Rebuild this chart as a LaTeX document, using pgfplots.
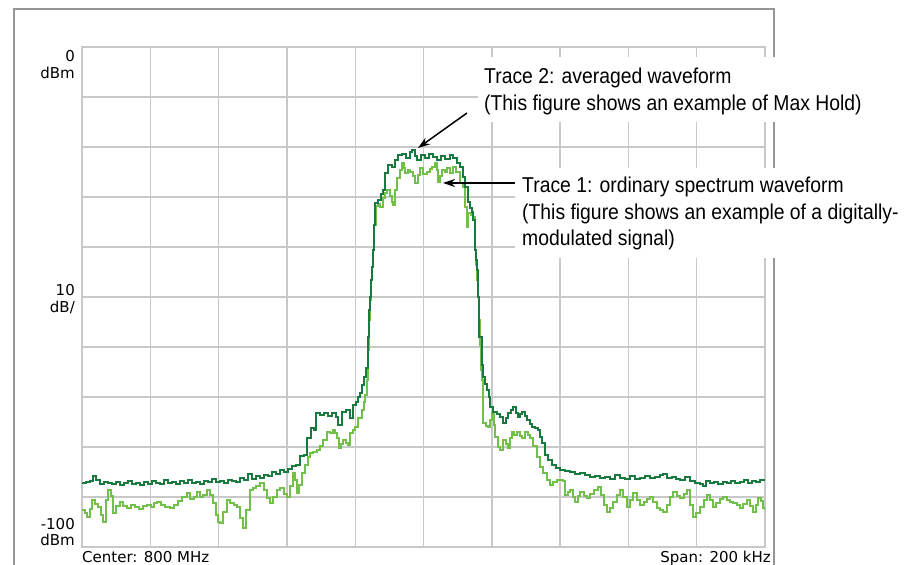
\documentclass[border=0pt]{standalone}
\usepackage{pgfplots}
\pgfplotsset{compat=1.18}
\usetikzlibrary{arrows.meta}
\usepackage{fontspec}
\setmainfont{DejaVu Sans}
\newfontfamily\annfont[FakeStretch=0.9]{Liberation Sans}
\definecolor{darktrace}{RGB}{24,122,62}
\definecolor{lighttrace}{RGB}{112,192,74}
\definecolor{gridgray}{RGB}{200,200,200}
\definecolor{framegray}{RGB}{150,150,150}
\begin{document}
\begin{tikzpicture}[x=1bp,y=1bp]
\useasboundingbox (0,0) rectangle (907,565);
\draw[framegray, line width=1.2bp] (14,0) -- (14,556) -- (774,556) -- (774,0);
\begin{axis}[
  at={(82bp,18bp)}, anchor=south west, scale only axis,
  width=683bp, height=500bp,
  xmin=0, xmax=683, ymin=-100, ymax=0,
  xtick={0,68.3,136.6,204.9,273.2,341.5,409.8,478.1,546.4,614.7,683},
  ytick={-100,-90,-80,-70,-60,-50,-40,-30,-20,-10,0},
  xticklabels={}, yticklabels={},
  major tick length=0pt,
  grid=major,
  grid style={line width=1.4bp, gridgray},
  axis line style={line width=1.4bp, gridgray},
  clip=true,
]
% Trace 1: ordinary spectrum (light green)
\addplot[const plot, lighttrace, line width=1.2bp] coordinates {
(0,-92.6) (3,-93.2) (5,-94.0) (8,-92.4) (10,-90.6) (13,-91.4) (16,-92.0) (19,-93.6) (21,-95.0) (24,-90.6)
(26,-88.6) (29,-89.8) (31,-93.2) (34,-91.8) (38,-91.0) (41,-91.8) (45,-92.2) (49,-91.6) (53,-92.0) (57,-92.4)
(61,-91.8) (65,-91.6) (69,-92.0) (72,-91.2) (75,-91.0) (79,-91.6) (83,-92.0) (88,-92.2) (92,-91.6) (96,-90.8)
(100,-90.0) (105,-89.2) (108,-90.4) (112,-90.0) (115,-89.0) (118,-90.0) (121,-89.6) (125,-88.6) (128,-89.6) (131,-91.2)
(134,-93.6) (136,-95.0) (138,-95.2) (141,-93.0) (145,-90.6) (148,-91.2) (152,-91.6) (155,-92.0) (158,-94.2) (161,-96.2)
(164,-92.6) (168,-88.6) (171,-88.2) (174,-87.8) (178,-87.2) (182,-88.6) (185,-90.2) (188,-91.2) (191,-90.0) (195,-88.6)
(198,-88.2) (202,-89.4) (205,-90.0) (208,-87.8) (211,-85.2) (213,-86.6) (215,-89.2) (217,-87.6) (220,-85.2) (223,-83.6)
(226,-82.0) (228,-81.2) (231,-81.0) (235,-80.6) (238,-79.8) (241,-78.6) (245,-77.0) (248,-77.2) (251,-76.6) (253,-77.2)
(255,-78.2) (257,-80.2) (259,-79.4) (261,-78.6) (264,-79.2) (266,-79.6) (268,-77.2) (271,-76.6) (273,-76.0) (276,-74.2)
(280,-72.6) (282,-71.0) (283,-69.6) (285,-66.6) (286,-60.6) (287,-54.6) (288,-50.6) (289,-46.6) (290,-44.0) (291,-40.6)
(292,-35.6) (294,-31.8) (296,-31.4) (298,-32.0) (301,-30.2) (303,-29.2) (305,-28.6) (308,-29.8) (310,-31.0) (311,-31.6)
(313,-28.6) (315,-26.2) (318,-24.6) (320,-23.2) (322,-24.2) (323,-25.2) (326,-24.6) (328,-25.0) (331,-25.8) (333,-27.2)
(336,-25.6) (338,-24.2) (341,-25.4) (345,-25.0) (348,-24.4) (350,-24.0) (353,-23.2) (355,-24.6) (356,-27.0) (358,-25.8)
(360,-24.6) (363,-25.0) (365,-24.2) (368,-25.2) (371,-24.0) (374,-25.0) (378,-27.2) (381,-28.0) (383,-32.0) (385,-36.0)
(386,-33.2) (389,-33.6) (391,-34.0) (393,-40.6) (394,-43.6) (395,-46.6) (396,-50.0) (397,-54.6) (398,-59.6) (399,-64.6)
(400,-66.6) (401,-75.2) (404,-75.8) (406,-76.0) (408,-74.6) (410,-73.2) (412,-75.6) (413,-78.0) (416,-80.0) (418,-80.6)
(421,-78.6) (424,-79.4) (426,-80.2) (428,-78.2) (430,-77.0) (432,-77.6) (435,-77.0) (438,-77.8) (440,-78.2) (443,-77.0)
(446,-77.6) (448,-78.2) (451,-79.8) (455,-82.0) (458,-84.0) (461,-85.2) (465,-86.6) (468,-87.6) (471,-87.0) (475,-86.6)
(478,-86.6) (481,-86.8) (483,-89.6) (486,-89.0) (488,-88.6) (491,-90.0) (493,-91.0) (496,-89.8) (498,-89.0) (502,-89.8)
(505,-90.2) (508,-89.4) (512,-88.6) (516,-88.0) (519,-89.6) (522,-91.6) (525,-93.0) (528,-92.2) (531,-91.0) (535,-89.6)
(538,-88.6) (541,-90.0) (545,-92.0) (548,-90.6) (551,-89.2) (555,-90.6) (558,-91.6) (562,-91.0) (565,-90.4) (568,-90.0)
(571,-91.0) (575,-92.2) (578,-92.6) (581,-93.0) (585,-91.6) (588,-90.0) (591,-89.0) (595,-89.8) (598,-90.2) (602,-89.4)
(605,-88.6) (608,-91.6) (611,-94.0) (614,-93.2) (618,-92.0) (622,-90.6) (625,-89.6) (628,-90.6) (631,-92.0) (634,-91.2)
(638,-90.4) (641,-90.0) (645,-90.6) (648,-91.0) (651,-91.2) (655,-91.6) (658,-92.2) (661,-91.4) (665,-90.6) (668,-91.8)
(671,-93.0) (674,-91.6) (676,-90.2) (679,-90.8) (681,-92.2) (683,-92.6)
};
% Trace 2: averaged / max hold (dark green)
\addplot[const plot, darktrace, line width=1.2bp] coordinates {
(0,-87.2) (4,-87.0) (8,-86.8) (11,-85.8) (14,-86.6) (18,-87.4) (22,-87.0) (26,-87.2) (30,-87.4) (34,-87.0)
(38,-87.6) (42,-87.2) (46,-86.8) (50,-87.4) (54,-87.2) (58,-87.6) (62,-87.0) (66,-87.4) (70,-86.8) (74,-87.2)
(78,-87.4) (82,-86.6) (86,-87.2) (90,-87.0) (94,-87.4) (98,-86.8) (102,-87.2) (106,-86.6) (110,-87.2) (114,-87.0)
(118,-87.4) (122,-86.8) (126,-87.0) (130,-86.4) (134,-87.0) (138,-86.8) (142,-87.2) (146,-86.6) (150,-86.8) (154,-87.0)
(158,-86.2) (162,-86.6) (166,-85.4) (170,-86.4) (174,-85.8) (178,-86.2) (182,-85.6) (186,-85.8) (190,-85.0) (194,-85.4)
(198,-84.6) (202,-85.0) (206,-84.4) (210,-83.8) (214,-83.6) (218,-81.8) (222,-81.6) (225,-78.2) (229,-76.2) (232,-76.6)
(234,-73.2) (238,-73.6) (242,-73.2) (246,-73.8) (250,-73.2) (254,-74.0) (256,-75.6) (260,-73.0) (264,-72.6) (268,-74.2)
(271,-71.6) (274,-71.0) (276,-70.0) (278,-69.2) (280,-67.6) (282,-66.0) (284,-64.2) (286,-58.0) (287,-52.6) (288,-50.0)
(289,-46.6) (290,-44.0) (291,-40.6) (292,-35.6) (293,-31.2) (296,-30.6) (299,-29.4) (301,-28.6) (303,-25.2) (306,-23.6)
(310,-24.0) (313,-22.6) (316,-21.6) (320,-21.4) (324,-22.2) (328,-21.0) (330,-20.6) (333,-21.8) (335,-22.6) (339,-21.6)
(343,-22.2) (347,-21.4) (351,-22.0) (355,-22.6) (359,-21.8) (363,-22.4) (368,-21.6) (371,-22.2) (375,-23.2) (378,-24.0)
(381,-26.0) (383,-28.0) (386,-31.0) (388,-32.2) (390,-33.0) (391,-34.6) (393,-40.6) (394,-42.6) (395,-44.6) (396,-50.0)
(397,-58.0) (400,-63.6) (401,-66.0) (403,-67.4) (405,-68.6) (407,-70.0) (408,-72.0) (411,-73.0) (415,-73.4) (418,-74.0)
(421,-75.2) (424,-74.2) (426,-73.2) (429,-72.6) (431,-72.0) (434,-73.2) (436,-74.0) (438,-73.4) (440,-73.0) (443,-73.8)
(445,-74.6) (448,-75.4) (450,-76.0) (453,-76.2) (456,-76.6) (458,-78.0) (460,-79.2) (463,-81.6) (466,-82.6) (470,-83.6)
(474,-84.2) (478,-84.6) (483,-84.8) (488,-85.0) (493,-85.4) (498,-85.2) (503,-85.6) (508,-86.0) (513,-85.8) (518,-86.2)
(523,-86.0) (528,-86.4) (533,-85.6) (538,-86.2) (543,-86.4) (548,-85.8) (553,-86.4) (558,-86.2) (563,-85.8) (568,-86.2)
(573,-86.0) (578,-85.6) (581,-85.4) (585,-86.2) (590,-86.0) (594,-86.4) (598,-86.6) (603,-86.0) (608,-86.8) (613,-87.2)
(618,-87.4) (621,-87.8) (624,-86.8) (628,-87.2) (632,-87.0) (636,-87.4) (641,-87.0) (645,-87.2) (649,-86.8) (653,-87.2)
(658,-87.0) (662,-86.6) (666,-87.2) (670,-86.8) (674,-87.0) (678,-86.6) (683,-86.6)
};
\end{axis}
% y labels
\fontsize{15bp}{17bp}\selectfont
\node[anchor=base east, inner sep=0] at (75,503) {0};
\node[anchor=base east, inner sep=0] at (75,486) {dBm};
\node[anchor=base east, inner sep=0] at (75,269) {10};
\node[anchor=base east, inner sep=0] at (75,252) {dB/};
\node[anchor=base east, inner sep=0] at (75,35) {-100};
\node[anchor=base east, inner sep=0] at (75,19) {dBm};
\node[anchor=base west, inner sep=0] at (82,2) {Center: 800 MHz};
\node[anchor=base east, inner sep=0] at (771,2) {Span: 200 kHz};
% annotation boxes
\fill[white] (478,443) rectangle (872,508);
\fill[white] (515,307) rectangle (905,397);
\annfont\fontsize{21.5bp}{27bp}\selectfont
\node[anchor=base west, inner sep=0] at (484,481) {Trace 2: averaged waveform};
\node[anchor=base west, inner sep=0] at (484,454) {(This figure shows an example of Max Hold)};
\node[anchor=base west, inner sep=0] at (522,372) {Trace 1: ordinary spectrum waveform};
\node[anchor=base west, inner sep=0] at (522,345) {(This figure shows an example of a digitally-};
\node[anchor=base west, inner sep=0] at (522,319) {modulated signal)};
\draw[-{Stealth[length=12bp,width=8bp]}, line width=1.5bp] (467,452) -- (418,417);
\draw[-{Stealth[length=12bp,width=8bp]}, line width=1.5bp] (515,382) -- (443,382);
\end{tikzpicture}
\end{document}
